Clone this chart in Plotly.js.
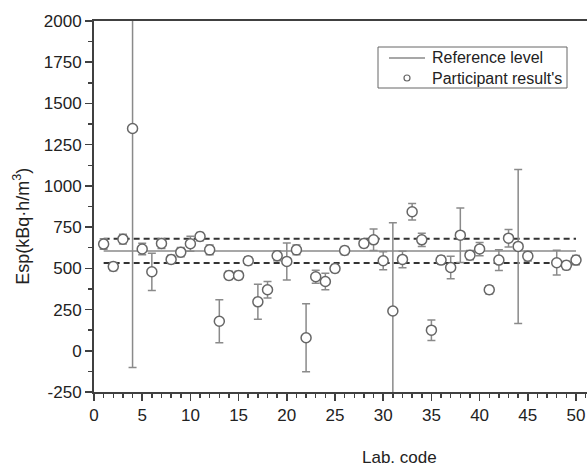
<!DOCTYPE html>
<html><head><meta charset="utf-8">
<script src="https://cdn.plot.ly/plotly-3.0.1.min.js"></script>
<style>html,body{margin:0;padding:0;background:#fff;}#chart{width:587px;height:468px;}</style>
</head><body><div id="chart"></div>
<script>
var labs = [1,2,3,4,5,6,7,8,9,10,11,12,13,14,15,16,17,18,19,20,21,22,23,24,25,26,28,29,30,31,32,33,34,35,36,37,38,39,40,41,42,43,44,45,48,49,50];
var results = [647,511,677,1348,617,479,651,554,598,649,693,612,179,457,457,546,297,370,576,542,612,79,449,420,499,608,651,673,546,241,554,843,673,125,550,505,701,580,617,370,550,683,633,574,534,518,550];
var uncertainty = [32,25,30,1450,35,113,30,25,28,45,25,30,131,25,25,25,106,50,30,112,30,206,40,50,25,25,25,65,55,535,50,50,40,62,25,68,165,28,40,25,63,53,467,30,75,25,28];
var refRange = [1, 50];
var refLevel = 605;
var upperLimit = 680;
var lowerLimit = 532;
var xTicks = [0,5,10,15,20,25,30,35,40,45,50];
var yTicks = [-250,0,250,500,750,1000,1250,1500,1750,2000];
var yTickText = ['-250','0','250','500','750','1000','1250','1500','1750','2000'];
var legendNames = ['Reference level', "Participant result's"];

var font = 'Liberation Sans, Arial, sans-serif';
var traces = [
  {x: refRange, y: [refLevel, refLevel], mode: 'lines', name: legendNames[0],
   line: {color: '#8a8a8a', width: 1.5}, showlegend: false},
  {x: refRange, y: [upperLimit, upperLimit], mode: 'lines', showlegend: false,
   line: {color: '#333', width: 2, dash: '6px,4px'}},
  {x: refRange, y: [lowerLimit, lowerLimit], mode: 'lines', showlegend: false,
   line: {color: '#333', width: 2, dash: '6px,4px'}},
  {x: labs, y: results, mode: 'markers', name: legendNames[1], showlegend: false,
   marker: {symbol: 'circle', size: 10, color: '#fff', line: {color: '#666', width: 1.5}},
   error_y: {type: 'data', array: uncertainty, visible: true, color: '#8a8a8a', thickness: 1.5, width: 4}}
];

// legend box drawn in paper coordinates (plot area: x 94..587 px, y 21..392 px)
var W = 493, H = 371, L = 94, T = 21;
function px(x){ return (x - L) / W; }
function py(y){ return 1 - (y - T) / H; }
var shapes = [
  {type: 'rect', xref: 'paper', yref: 'paper', x0: px(378), x1: px(567), y0: py(47), y1: py(88),
   line: {color: '#666', width: 1}, fillcolor: '#fff', layer: 'above'},
  {type: 'line', xref: 'paper', yref: 'paper', x0: px(389), x1: px(425), y0: py(58), y1: py(58),
   line: {color: '#8a8a8a', width: 1.5}, layer: 'above'},
  {type: 'circle', xref: 'paper', yref: 'paper', x0: px(404), x1: px(410), y0: py(75), y1: py(81),
   line: {color: '#666', width: 1.2}, fillcolor: '#fff', layer: 'above'}
];

var layout = {
  width: 587, height: 468,
  margin: {l: 94, r: 0, t: 21, b: 76},
  paper_bgcolor: '#fff', plot_bgcolor: '#fff',
  font: {family: font, size: 16, color: '#222'},
  showlegend: false,
  xaxis: {range: [0, 51.14], tickvals: xTicks, ticks: 'outside', ticklen: 7, tickwidth: 1.5,
          tickcolor: '#404040', showline: true, linecolor: '#404040', linewidth: 2, mirror: true,
          showgrid: false, zeroline: false, tickfont: {size: 17},
          minor: {dtick: 1, ticks: 'outside', ticklen: 4, tickwidth: 1.5, tickcolor: '#404040', showgrid: false}},
  yaxis: {range: [-250, 2000], tickvals: yTicks, ticktext: yTickText, ticks: 'outside', ticklen: 7, tickwidth: 1.5,
          tickcolor: '#404040', showline: true, linecolor: '#404040', linewidth: 2,
          showgrid: false, zeroline: false, tickfont: {size: 17},
          minor: {dtick: 125, ticks: 'outside', ticklen: 4, tickwidth: 1.5, tickcolor: '#404040', showgrid: false}},
  shapes: shapes,
  annotations: [
    {text: 'Esp(kBq·h/m<sup>3</sup>)', xref: 'paper', yref: 'paper', x: -0.1467, y: 0.447,
     xanchor: 'center', yanchor: 'middle', textangle: -90, showarrow: false, font: {size: 18, color: '#222'}},
    {text: 'Lab. code', xref: 'paper', yref: 'paper', x: px(399), y: py(457),
     xanchor: 'center', yanchor: 'middle', showarrow: false, font: {size: 17, color: '#222'}},
    {text: legendNames[0], xref: 'paper', yref: 'paper', x: px(430), y: py(58),
     xanchor: 'left', yanchor: 'middle', showarrow: false, font: {size: 16, color: '#222'}},
    {text: legendNames[1], xref: 'paper', yref: 'paper', x: px(430), y: py(78),
     xanchor: 'left', yanchor: 'middle', showarrow: false, font: {size: 16, color: '#222'}}
  ]
};
Plotly.newPlot('chart', traces, layout, {displayModeBar: false, staticPlot: true});
</script></body></html>
